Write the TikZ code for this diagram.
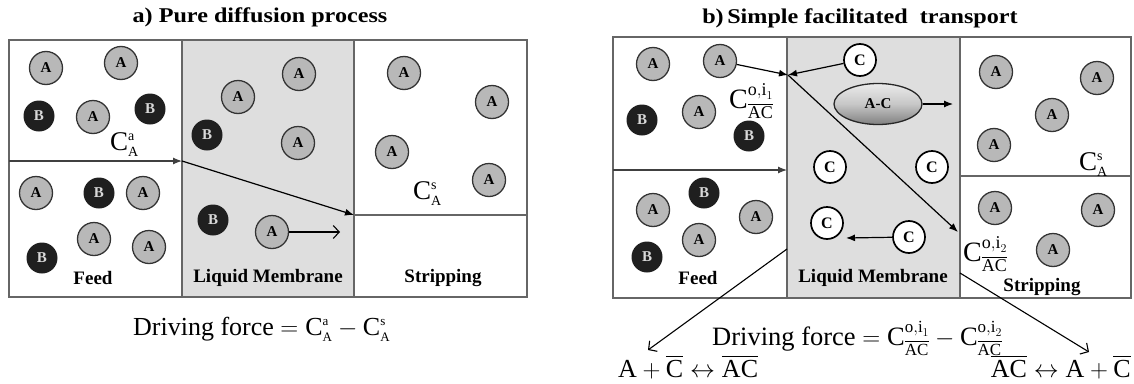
\documentclass[tikz,border=0pt]{standalone}
\usepackage{amsmath}
\usepackage{fontspec}
\setmainfont{Liberation Serif}
\newfontfamily\titlefont[FakeStretch=1.15]{Liberation Serif}
\DeclareMathSizes{27}{27}{14}{10}
\DeclareMathSizes{28}{28}{18}{12}
\DeclareMathSizes{26}{26}{13}{10}
\DeclareMathSizes{26.5}{26.5}{17}{12}
\usetikzlibrary{arrows.meta,shapes.geometric}
\definecolor{wallc}{gray}{0.4}
\definecolor{memc}{gray}{0.87}
\definecolor{afill}{gray}{0.72}
\definecolor{bfill}{gray}{0.12}
\begin{document}
\begin{tikzpicture}[x=1pt,y=-1pt,
  wall/.style={draw=wallc,line width=1.5pt},
  arr/.style={-{Latex[length=9pt,width=7pt]},line width=1.2pt,draw=black},
  oarr/.style={-{Straight Barb[length=6pt,width=13pt]},line width=1.1pt},
  acirc/.style={circle,draw=black!80,line width=1.3pt,fill=afill,minimum size=33pt,inner sep=0pt,font=\fontsize{15}{15}\selectfont\bfseries},
  bcirc/.style={circle,fill=bfill,minimum size=31pt,inner sep=0pt,text=black!15,font=\fontsize{15}{15}\selectfont\bfseries},
  ccirc/.style={circle,draw=black,line width=1.7pt,fill=white,minimum size=32pt,inner sep=0pt,font=\fontsize{16}{16}\selectfont\bfseries},
  zone/.style={font=\fontsize{19}{19}\selectfont\bfseries},
  ttl/.style={font=\titlefont\bfseries\fontsize{21}{21}\selectfont},
  conc/.style={font=\fontsize{27}{30}\selectfont,inner sep=0pt,anchor=base west},
  concb/.style={font=\fontsize{28}{30}\selectfont,inner sep=0pt,anchor=base west},
  eqn/.style={font=\fontsize{26}{28}\selectfont,inner sep=0pt,anchor=base west},
  eqnb/.style={font=\fontsize{26.5}{28}\selectfont,inner sep=0pt,anchor=base west},
  cplx/.style={ellipse,draw=black!85,line width=1.3pt,top color=black!8,bottom color=black!50,middle color=black!22,minimum width=88pt,minimum height=41pt,inner sep=0pt,font=\fontsize{15}{15}\selectfont\bfseries}
  ]
\useasboundingbox (0,0) rectangle (1134,383);

% ---------------- panel a ----------------
\fill[memc] (182,40) rectangle (354,297);
\draw[wall] (9,40) rectangle (527,297);
\draw[wall] (182,40) -- (182,297) (354,40) -- (354,297);
\coordinate (aF) at (9,161);
\coordinate (aM1) at (182,161);
\coordinate (aM2) at (354,215);
\coordinate (aS) at (527,215);
\draw[wall] (aM2) -- (aS);
\draw[arr,draw=black!75] (aF) -- (aM1);
\draw[arr] (aM1) -- (aM2);

\node[acirc] (aA1) at (46,68) {A};
\node[acirc] (aA2) at (121,63) {A};
\node[bcirc] (aB1) at (39,116) {B};
\node[acirc] (aA3) at (93,117) {A};
\node[bcirc] (aB2) at (150,109) {B};
\node[acirc] (aA4) at (36,193) {A};
\node[bcirc] (aB3) at (99,193) {B};
\node[acirc] (aA5) at (143,193) {A};
\node[acirc] (aA6) at (94,239) {A};
\node[bcirc] (aB4) at (42,258) {B};
\node[acirc] (aA7) at (149,247) {A};

\node[acirc] (aA8) at (299,74) {A};
\node[acirc] (aA9) at (238,97) {A};
\node[bcirc] (aB5) at (207,135) {B};
\node[acirc] (aA10) at (298,143) {A};
\node[bcirc] (aB6) at (213,220) {B};
\node[acirc] (aA11) at (272,232) {A};
\coordinate (aA11t) at (340,232);
\draw[oarr] (aA11) -- (aA11t);

\node[acirc] (aA12) at (404,73) {A};
\node[acirc] (aA13) at (492,102) {A};
\node[acirc] (aA14) at (392,152) {A};
\node[acirc] (aA15) at (489,180) {A};

\node[zone] (aFeed) at (93,278) {Feed};
\node[zone] (aLM) at (268,278) {Liquid Membrane};
\node[zone] (aStr) at (443,278) {Stripping};
\node[conc] (aCa) at (110,150) {$\mathrm{C}^{\mathrm{a}}_{\mathrm{A}}$};
\node[conc] (aCs) at (413,199) {$\mathrm{C}^{\mathrm{s}}_{\mathrm{A}}$};
\node[ttl] (aTitle) at (260,17) {a) Pure diffusion process};
\node[eqn] (aEq) at (133,335) {Driving force $=\mathrm{C}^{\mathrm{a}}_{\mathrm{A}}-\mathrm{C}^{\mathrm{s}}_{\mathrm{A}}$};

% ---------------- panel b ----------------
\fill[memc] (787,37) rectangle (960,298);
\draw[wall] (613,37) rectangle (1131,298);
\draw[wall] (787,37) -- (787,298) (960,37) -- (960,298);
\coordinate (bF) at (613,170);
\coordinate (bM1) at (787,170);
\draw[arr,draw=black!75] (bF) -- (bM1);
\coordinate (bS1) at (960,176);
\coordinate (bS2) at (1131,176);
\draw[wall] (bS1) -- (bS2);

\node[acirc] (bA1) at (653,64) {A};
\node[acirc] (bA2) at (720,61) {A};
\node[bcirc] (bB1) at (642,120) {B};
\node[acirc] (bA3) at (699,112) {A};
\node[bcirc] (bB2) at (749,136) {B};
\node[acirc] (bA4) at (653,210) {A};
\node[bcirc] (bB3) at (704,193) {B};
\node[acirc] (bA5) at (756,217) {A};
\node[acirc] (bA6) at (699,240) {A};
\node[bcirc] (bB4) at (647,257) {B};

\node[ccirc] (bC1) at (860,60) {C};
\node[cplx] (bAC) at (878,104) {A-C};
\node[ccirc] (bC2) at (830,167) {C};
\node[ccirc] (bC3) at (932,167) {C};
\node[ccirc] (bC4) at (827,223) {C};
\node[ccirc] (bC5) at (909,237) {C};

\node[acirc] (bA7) at (996,72) {A};
\node[acirc] (bA8) at (1097,78) {A};
\node[acirc] (bA9) at (1052,115) {A};
\node[acirc] (bA10) at (994,145) {A};
\node[acirc] (bA11) at (995,208) {A};
\node[acirc] (bA12) at (1098,210) {A};
\node[acirc] (bA13) at (1053,250) {A};

\coordinate (bJ) at (788,75);
\draw[arr] (bA2) -- (bJ);
\draw[arr] (bC1) -- (bJ);
\coordinate (bT) at (958,232);
\draw[arr] (bJ) -- (bT);
\coordinate (bACt) at (953,104);
\draw[arr] (bAC) -- (bACt);
\coordinate (bC5t) at (846,238);
\draw[arr] (bC5) -- (bC5t);
\coordinate (bL1) at (787,249);
\coordinate (bL2) at (648,350);
\draw[oarr] (bL1) -- (bL2);
\coordinate (bR1) at (960,273);
\coordinate (bR2) at (1089,352);
\draw[oarr] (bR1) -- (bR2);

\node[zone] (bFeed) at (698,278) {Feed};
\node[zone] (bLM) at (873,278) {Liquid Membrane};
\node[zone] (bStr) at (1042,287) {Stripping};
\node[concb] (bCi1) at (729,108) {$\mathrm{C}^{\mathrm{o,i}_1}_{\overline{\mathrm{AC}}}$};
\node[concb] (bCi2) at (963,261) {$\mathrm{C}^{\mathrm{o,i}_2}_{\overline{\mathrm{AC}}}$};
\node[conc] (bCs) at (1079,170) {$\mathrm{C}^{\mathrm{s}}_{\mathrm{A}}$};
\node[ttl] (bTitle) at (860,18) {b)\,Simple facilitated\ \ transport};
\node[eqnb] (bEq) at (712,345) {Driving force $=\mathrm{C}^{\mathrm{o,i}_1}_{\overline{\mathrm{AC}}}-\mathrm{C}^{\mathrm{o,i}_2}_{\overline{\mathrm{AC}}}$};
\node[eqn] (bEqL) at (618,377) {$\mathrm{A}+\overline{\mathrm{C}}\leftrightarrow\overline{\mathrm{AC}}$};
\node[eqn,anchor=base east] (bEqR) at (1131,377) {$\overline{\mathrm{AC}}\leftrightarrow\mathrm{A}+\overline{\mathrm{C}}$};
\end{tikzpicture}
\end{document}
